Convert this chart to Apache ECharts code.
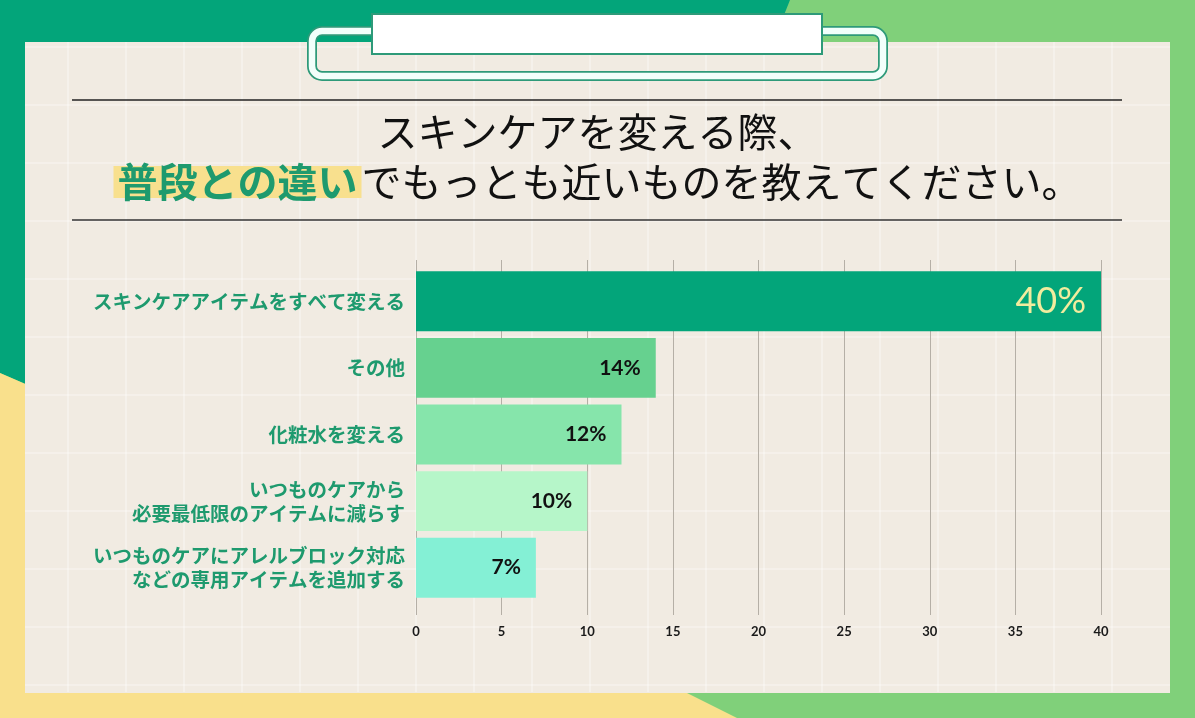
<!DOCTYPE html>
<html lang="ja">
<head>
<meta charset="UTF-8">
<title>スキンケアを変える際</title>
<script src="https://cdn.jsdelivr.net/npm/echarts@6/dist/echarts.min.js"></script>
<style>
  html, body { margin: 0; padding: 0; }
  #main { width: 1195px; height: 718px; }
</style>
</head>
<body>
<div id="main"></div>
<script>
// 回答の選択肢と割合(%)
const categories = [
  'スキンケアアイテムをすべて変える',
  'その他',
  '化粧水を変える',
  'いつものケアから\n必要最低限のアイテムに減らす',
  'いつものケアにアレルブロック対応\nなどの専用アイテムを追加する'
]
const values = [40, 14, 12, 10, 7]
const barColors = ['#03a57a', '#66d18f', '#86e5ab', '#b6f6c9', '#84f0d5']
const xMin = 0, xMax = 40, xStep = 5

const jp = '"Noto Sans CJK JP", sans-serif'
const num = 'Lato, "Noto Sans", sans-serif'
const green = '#1e9a6e'
const lineGray = '#b5afa6'

// 背景の方眼(白線)
const gridDeco = []
for (let x = 68; x < 1170; x += 58) {
  gridDeco.push({ type: 'line', z: -10, shape: { x1: x, y1: 42, x2: x, y2: 692 },
    style: { stroke: 'rgba(255,255,255,0.55)', lineWidth: 1.2 } })
}
for (let y = 47; y < 692; y += 58) {
  gridDeco.push({ type: 'line', z: -10, shape: { x1: 25, y1: y, x2: 1170, y2: y },
    style: { stroke: 'rgba(255,255,255,0.55)', lineWidth: 1.2 } })
}

const chart = echarts.init(document.getElementById('main'))
chart.setOption({
  animation: false,
  title: [
    {
      text: 'スキンケアを変える際、',
      left: 'center', top: 112, padding: 0,
      textStyle: { fontFamily: jp, fontSize: 40, fontWeight: 'normal', color: '#111' }
    },
    {
      text: '{hl|普段との違い}{t|でもっとも近いものを教えてください。}',
      left: 'center', top: 162, padding: 0,
      textStyle: {
        rich: {
          hl: { fontFamily: jp, fontSize: 40, fontWeight: 'bold', color: green,
                backgroundColor: '#f8e08e', height: 32, padding: [0, 4] },
          t: { fontFamily: jp, fontSize: 40, fontWeight: 'normal', color: '#111' }
        }
      }
    }
  ],
  graphic: [
    { type: 'rect', z: -10, shape: { x: 0, y: 0, width: 1195, height: 718 }, style: { fill: '#80d07a' } },
    { type: 'polygon', z: -10, shape: { points: [[0, 0], [790, 0], [770, 50], [30, 50], [30, 386], [0, 373]] },
      style: { fill: '#03a57a' } },
    { type: 'polygon', z: -10, shape: { points: [[0, 373], [30, 386], [30, 692], [685, 692], [737, 718], [0, 718]] },
      style: { fill: '#f9e08c' } },
    { type: 'rect', z: -10, shape: { x: 25, y: 42, width: 1145, height: 651 }, style: { fill: '#f1ebe2' } },
    ...gridDeco,
    // クリップ
    { type: 'rect', z: -5, shape: { x: 312, y: 31, width: 571, height: 45, r: 10 },
      style: { fill: null, stroke: '#2e9a79', lineWidth: 10 } },
    { type: 'rect', z: -5, shape: { x: 312, y: 31, width: 571, height: 45, r: 10 },
      style: { fill: null, stroke: '#f2fffb', lineWidth: 6.5 } },
    { type: 'rect', z: -5, shape: { x: 372, y: 14, width: 450, height: 40 },
      style: { fill: '#ffffff', stroke: '#2e9a79', lineWidth: 2 } },
    // タイトルの罫線
    { type: 'line', z: -5, shape: { x1: 72, y1: 100, x2: 1122, y2: 100 }, style: { stroke: '#222', lineWidth: 1.5 } },
    { type: 'line', z: -5, shape: { x1: 72, y1: 220, x2: 1122, y2: 220 }, style: { stroke: '#333', lineWidth: 1.5 } }
  ],
  grid: { left: 416, right: 94, top: 268, bottom: 117 },
  xAxis: [
    {
      type: 'value', min: xMin, max: xMax, interval: xStep,
      axisLine: { show: false },
      axisTick: { show: true, length: 14, lineStyle: { color: lineGray } },
      splitLine: { show: true, lineStyle: { color: lineGray, width: 1 } },
      axisLabel: { margin: 24, fontFamily: num, fontSize: 13, fontWeight: 'bold', color: '#1a1a1a' }
    },
    {
      type: 'value', position: 'top', min: xMin, max: xMax, interval: xStep,
      axisLine: { show: false },
      axisTick: { show: true, length: 8, lineStyle: { color: lineGray } },
      splitLine: { show: false },
      axisLabel: { show: false }
    }
  ],
  yAxis: {
    type: 'category', inverse: true, data: categories,
    axisLine: { show: false }, axisTick: { show: false },
    axisLabel: { margin: 11, fontFamily: jp, fontSize: 19.5, fontWeight: 'bold', color: green,
                 lineHeight: 24, align: 'right' }
  },
  series: [{
    type: 'bar',
    xAxisIndex: 0,
    barCategoryGap: '10%',
    data: values.map((v, i) => ({
      value: v,
      itemStyle: { color: barColors[i] },
      label: i === 0 ? { fontSize: 36, fontWeight: 'normal', color: '#f2ec9e' } : {}
    })),
    label: {
      show: true, position: 'insideRight', distance: 15,
      formatter: '{c}%',
      fontFamily: num, fontSize: 21, fontWeight: 'bold', color: '#111'
    }
  }]
})
</script>
</body>
</html>
